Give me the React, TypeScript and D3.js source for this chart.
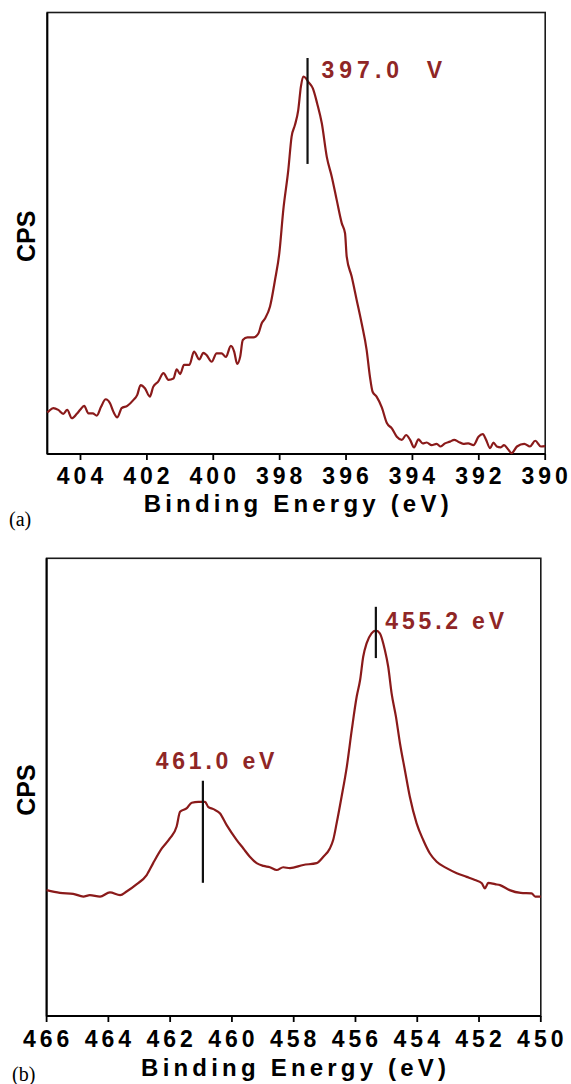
import React from 'react';
import * as d3 from 'd3';

// ---------- Panel (a): N 1s region ----------
const energyA = [
  405.0, 404.97, 404.82, 404.67, 404.52, 404.40, 404.26, 404.11, 404.01, 403.89, 403.76,
  403.63, 403.51, 403.38, 403.24, 403.11, 403.01, 402.89, 402.76, 402.59, 402.41, 402.29,
  402.19, 402.06, 401.91, 401.81, 401.66, 401.50, 401.35, 401.20, 401.10, 401.00, 400.88,
  400.72, 400.58, 400.42, 400.30, 400.20, 400.05, 399.90, 399.75, 399.62, 399.47, 399.37,
  399.28, 399.19, 399.11, 398.97, 398.79, 398.64, 398.54, 398.44, 398.29, 398.14, 398.01,
  397.89, 397.74, 397.64, 397.54, 397.44, 397.36, 397.29, 397.21, 397.14, 397.00, 396.87,
  396.73, 396.58, 396.43, 396.28, 396.13, 396.03, 395.98, 395.83, 395.68, 395.53, 395.38,
  395.28, 395.20, 395.08, 394.92, 394.77, 394.62, 394.47, 394.32, 394.19, 394.07, 393.95,
  393.82, 393.69, 393.57, 393.42, 393.27, 393.15, 393.02, 392.87, 392.74, 392.62, 392.47,
  392.32, 392.16, 392.01, 391.88, 391.78, 391.66, 391.56, 391.46, 391.34, 391.24, 391.12,
  391.01, 390.85, 390.63, 390.46, 390.30, 390.13, 390.0,
];
const countsA = [
  9.4, 9.6, 10.4, 10.0, 9.1, 10.0, 8.1, 9.1, 10.0, 10.9, 9.2,
  9.2, 8.7, 10.7, 12.4, 11.5, 9.6, 8.3, 10.4, 10.9, 12.2, 13.4,
  15.6, 14.9, 13.0, 15.2, 16.4, 18.3, 16.8, 17.1, 19.2, 18.1, 20.2,
  20.2, 23.2, 21.4, 22.9, 22.4, 20.9, 22.8, 22.8, 22.0, 24.5, 23.2,
  20.4, 22.0, 25.8, 26.4, 26.4, 27.3, 29.6, 30.7, 33.4, 39.4, 45.5,
  55.3, 64.3, 71.9, 74.5, 77.9, 83.2, 85.5, 85.1, 84.3, 82.8, 79.4,
  74.9, 67.3, 62.8, 57.5, 52.3, 50.0, 44.7, 40.2, 34.9, 29.6, 23.6,
  17.5, 14.1, 13.0, 10.5, 7.0, 5.8, 3.9, 3.2, 4.3, 3.2, 1.5,
  3.3, 2.4, 2.6, 2.0, 2.3, 1.7, 2.4, 2.8, 3.2, 2.8, 2.3,
  2.4, 2.0, 3.9, 4.5, 3.2, 1.3, 2.6, 1.7, 1.5, 2.0, 1.1,
  0.2, 1.7, 2.3, 1.7, 3.0, 1.7, 1.8,
];
const ticksA = [404, 402, 400, 398, 396, 394, 392, 390];
const annotationsA = [{ label: '397.0  V', energy: 397.16, low: 65.7, high: 89.7 }];

// ---------- Panel (b): Ti 2p region ----------
const energyB = [
  466.0, 465.57, 465.14, 464.81, 464.60, 464.27, 463.95, 463.62, 463.41, 463.08, 462.76,
  462.55, 462.27, 462.01, 461.79, 461.68, 461.46, 461.30, 461.09, 460.87, 460.77, 460.60,
  460.39, 460.17, 459.85, 459.63, 459.42, 459.20, 458.98, 458.77, 458.55, 458.34, 458.12,
  457.69, 457.26, 457.04, 456.83, 456.72, 456.61, 456.45, 456.28, 456.12, 455.96, 455.85,
  455.75, 455.64, 455.48, 455.34, 455.21, 455.05, 454.94, 454.83, 454.69, 454.56, 454.40,
  454.24, 454.02, 453.81, 453.59, 453.37, 453.05, 452.72, 452.40, 452.13, 451.91, 451.81,
  451.70, 451.48, 451.32, 451.01, 450.65, 450.30, 450.18, 450.0,
];
const countsB = [
  27.5, 26.9, 26.7, 26.1, 26.4, 26.1, 27.0, 26.4, 27.2, 28.8, 30.8,
  33.4, 36.6, 38.8, 41.4, 44.6, 45.4, 46.6, 46.8, 46.8, 45.7, 45.2,
  44.3, 41.7, 38.5, 36.6, 34.8, 33.4, 32.8, 32.5, 31.9, 32.5, 32.3,
  33.0, 33.4, 34.8, 36.6, 38.5, 42.1, 47.9, 54.5, 62.5, 69.8, 73.4,
  78.5, 81.4, 83.6, 84.2, 83.6, 80.0, 76.3, 70.5, 65.4, 59.6, 53.7,
  47.9, 42.1, 38.5, 35.5, 33.7, 32.3, 31.2, 30.4, 29.7, 29.0, 27.9,
  29.1, 28.8, 28.6, 27.5, 26.9, 26.8, 26.1, 26.1,
];
const ticksB = [466, 464, 462, 460, 458, 456, 454, 452, 450];
const annotationsB = [
  { label: '455.2 eV', energy: 455.34, low: 78.2, high: 89.4 },
  { label: '461.0 eV', energy: 460.94, low: 29.1, high: 51.4 },
];

const xTitle = 'Binding Energy (eV)';
const yTitle = 'CPS';

const CURVE = '#8a1a1a';
const LABEL_RED = '#8f2626';
const SANS = '"Liberation Sans", Arial, sans-serif';
const SERIF = '"Liberation Serif", "Times New Roman", serif';

type Ann = { label: string; energy: number; low: number; high: number };
type LabelPos = { dx: number; dy: number; anchor: 'start' | 'middle' | 'end'; ls: number };

function Panel(props: {
  left: number; right: number; top: number; bottom: number;
  domain: [number, number]; ticks: number[];
  energy: number[]; counts: number[];
  anns: Ann[]; annPos: LabelPos[];
  letter: string; letterX: number; letterDy: number; titleDy: number; tickDy: number;
}) {
  const { left, right, top, bottom, domain, ticks, energy, counts, anns, annPos } = props;
  const x = d3.scaleLinear().domain(domain).range([left, right]);
  const y = d3.scaleLinear().domain([0, 100]).range([bottom, top]);
  const pts = energy.map((e, i) => [e, counts[i]] as [number, number]);
  const line = d3.line<[number, number]>().x(d => x(d[0])).y(d => y(d[1])).curve(d3.curveMonotoneX);
  const cx = (left + right) / 2;
  const cy = (top + bottom) / 2;
  return (
    <g>
      <rect x={left} y={top} width={right - left} height={bottom - top} fill="none" stroke="#1a1a1a" strokeWidth={1.6} />
      <line x1={left} x2={right} y1={bottom} y2={bottom} stroke="#000" strokeWidth={2} />
      <line x1={left} x2={left} y1={top} y2={bottom} stroke="#000" strokeWidth={2} />
      {ticks.map(t => (
        <g key={t}>
          <line x1={x(t)} x2={x(t)} y1={bottom} y2={bottom + 6} stroke="#000" strokeWidth={1.8} />
          <text x={x(t) + 1.5} y={bottom + props.tickDy} textAnchor="middle" fontFamily={SANS} fontWeight="bold"
            fontSize={23} letterSpacing={4} fill="#000">{t}</text>
        </g>
      ))}
      <path d={line(pts) || ''} fill="none" stroke={CURVE} strokeWidth={2.2} strokeLinejoin="round" />
      {anns.map((a, i) => {
        const p = annPos[i];
        const ax = x(a.energy);
        return (
          <g key={a.label}>
            <line x1={ax} x2={ax} y1={y(a.high)} y2={y(a.low)} stroke="#111" strokeWidth={2.2} />
            <text x={ax + p.dx} y={y(a.high) + p.dy} textAnchor={p.anchor} fontFamily={SANS} fontWeight="bold"
              fontSize={23} letterSpacing={p.ls} fill={LABEL_RED} style={{ whiteSpace: 'pre' }}>{a.label}</text>
          </g>
        );
      })}
      <text x={cx + 2} y={bottom + props.titleDy} textAnchor="middle" fontFamily={SANS} fontWeight="bold"
        fontSize={24} letterSpacing={4.2} fill="#000">{xTitle}</text>
      <text transform={`translate(35,${cy + 3}) rotate(-90)`} textAnchor="middle" fontFamily={SANS} fontWeight="bold"
        fontSize={25} fill="#000">{yTitle}</text>
      <text x={props.letterX} y={bottom + props.letterDy} fontFamily={SERIF} fontSize={20} fill="#000">{props.letter}</text>
    </g>
  );
}

export default function App() {
  return (
    <svg width={571} height={1084} viewBox="0 0 571 1084"
      style={{ position: 'absolute', left: 0, top: 0, background: '#fff' }}>
      <rect width={571} height={1084} fill="#fff" />
      <Panel left={47.3} right={545.2} top={12.5} bottom={454} domain={[405, 390]} ticks={ticksA}
        energy={energyA} counts={countsA} anns={annotationsA}
        annPos={[{ dx: 14, dy: 20, anchor: 'start', ls: 5 }]}
        letter="(a)" letterX={9} letterDy={72} titleDy={58} tickDy={30} />
      <Panel left={46.6} right={540.8} top={558.3} bottom={1016} domain={[466, 450]} ticks={ticksB}
        energy={energyB} counts={countsB} anns={annotationsB}
        annPos={[{ dx: 9.5, dy: 22.6, anchor: 'start', ls: 3.8 }, { dx: 14, dy: -11.4, anchor: 'middle', ls: 3.8 }]}
        letter="(b)" letterX={12} letterDy={65} titleDy={60} tickDy={31} />
    </svg>
  );
}
